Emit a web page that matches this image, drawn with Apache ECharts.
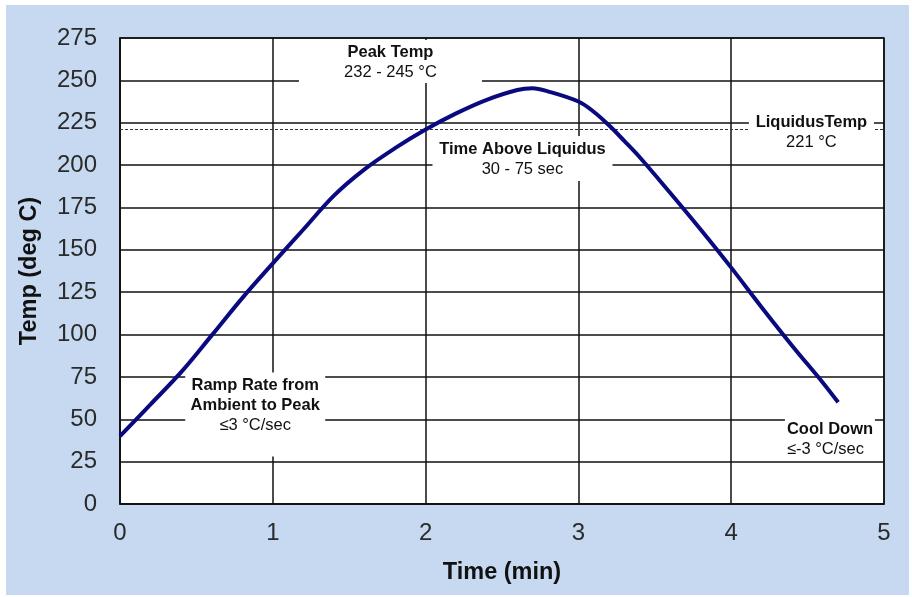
<!DOCTYPE html>
<html>
<head>
<meta charset="utf-8">
<script src="https://cdn.jsdelivr.net/npm/echarts@6/dist/echarts.min.js"></script>
<style>
  html, body { margin: 0; padding: 0; background: #ffffff; }
  #wrap { position: absolute; left: 6px; top: 5px; right: 3px; bottom: 2px; background: #c6d9f0; }
  #chart { position: absolute; left: -6px; top: -5px; width: 912px; height: 597px; }
</style>
</head>
<body>
<div id="wrap"><div id="chart"></div></div>
<script>
// ---- data ----
const timeMin = [0, 0.2, 0.4, 0.6, 0.8, 1.0, 1.2, 1.4, 1.6, 1.8, 2.0, 2.2, 2.4, 2.6, 2.7, 2.8, 3.0, 3.1, 3.2, 3.3, 3.4, 3.6, 3.8, 4.0, 4.2, 4.4, 4.6, 4.7];
const tempC   = [40, 58.8, 77.8, 99.5, 121.5, 142, 162, 182, 197.5, 210, 221, 230.5, 238.5, 244.3, 245.3, 243.5, 237.5, 231.5, 223.5, 214.3, 204.8, 183.7, 162, 139.5, 116, 93.3, 71.6, 60];
const liquidusTemp = 221;
const xTicks = [0, 1, 2, 3, 4, 5];
const yTicks = [0, 25, 50, 75, 100, 125, 150, 175, 200, 225, 250, 275];

// annotations (data coordinates of box centres)
const annoX = [1.77, 2.634, 4.525, 0.885, 4.646];
const annoY = [261.1, 203.9, 219.5, 52.8, 39.2];
const annoTitle = ['Peak Temp', 'Time Above Liquidus', 'LiquidusTemp', 'Ramp Rate from\nAmbient to Peak', 'Cool Down'];
const annoSub = ['232 - 245 °C', '30 - 75 sec', '221 °C', '≤3 °C/sec', '≤-3 °C/sec'];

const chart = echarts.init(document.getElementById('chart'), null, { renderer: 'canvas' });

const FONT = 'Arial, "Liberation Sans", Helvetica, sans-serif';
const annoBox = [
  { width: 163, padding: [2, 10, 1, 10], align: 'center' },
  { width: 170, padding: [3, 5, 2, 5], align: 'center' },
  { width: 115, padding: [2, 5, 2, 5], align: 'center' },
  { width: 134, padding: [3, 3, 21, 3], align: 'center' },
  { width: 86, padding: [4, 2, 0, 2], align: 'left' }
];

const annoData = annoX.map((x, i) => {
  const b = annoBox[i];
  const titleLines = annoTitle[i].split('\n').map(l => '{b|' + l + '}').join('\n');
  return {
    value: [x, annoY[i]],
    label: {
      show: true,
      position: 'inside',
      opacity: 1,
      formatter: titleLines + '\n{n|' + annoSub[i] + '}',
      backgroundColor: '#ffffff',
      width: b.width,
      padding: b.padding,
      textBorderWidth: 0,
      rich: {
        b: { fontFamily: FONT, fontSize: 16.5, fontWeight: 'bold', color: '#111111', lineHeight: 20, align: b.align, textBorderWidth: 0 },
        n: { fontFamily: FONT, fontSize: 16.5, color: '#111111', lineHeight: 20, align: b.align, textBorderWidth: 0 }
      }
    }
  };
});

const option = {
  backgroundColor: 'transparent',
  animation: false,
  grid: {
    left: 120, top: 38, right: 28, bottom: 93,
    show: true, backgroundColor: '#ffffff', borderColor: '#111', borderWidth: 1.5
  },
  xAxis: {
    type: 'value', min: 0, max: 5, interval: 1,
    name: 'Time (min)', nameLocation: 'middle', nameGap: 57,
    nameTextStyle: { fontFamily: FONT, fontSize: 23.5, fontWeight: 'bold', color: '#111' },
    axisLine: { show: true, lineStyle: { color: '#111', width: 1.5 } },
    axisTick: { show: false },
    axisLabel: { margin: 17, fontFamily: FONT, fontSize: 24, color: '#2a2a2a',
      formatter: v => xTicks.includes(v) ? String(v) : '' },
    splitLine: { show: true, lineStyle: { color: '#111', width: 1.5 } }
  },
  yAxis: {
    type: 'value', min: 0, max: 275, interval: 25,
    name: 'Temp (deg C)', nameLocation: 'middle', nameGap: 78,
    nameTextStyle: { fontFamily: FONT, fontSize: 23.5, fontWeight: 'bold', color: '#111' },
    axisLine: { show: true, lineStyle: { color: '#111', width: 1.5 } },
    axisTick: { show: false },
    axisLabel: { margin: 23, fontFamily: FONT, fontSize: 24, color: '#2a2a2a',
      formatter: v => yTicks.includes(v) ? String(v) : '' },
    splitLine: { show: true, lineStyle: { color: '#111', width: 1.5 } }
  },
  series: [
    {
      name: 'Liquidus',
      type: 'line',
      data: [[0, liquidusTemp], [5, liquidusTemp]],
      symbol: 'none',
      lineStyle: { color: '#333', width: 1, type: [3, 2] },
      z: 2
    },
    {
      name: 'Profile',
      type: 'line',
      data: timeMin.map((t, i) => [t, tempC[i]]),
      smooth: 0.35,
      symbol: 'none',
      lineStyle: { color: '#0a0a80', width: 4 },
      z: 3
    },
    {
      name: 'Annotations',
      type: 'scatter',
      symbolSize: 0,
      itemStyle: { color: '#ffffff', opacity: 1 },
      emphasis: { disabled: true },
      data: annoData,
      z: 4
    }
  ]
};
chart.setOption(option);
</script>
</body>
</html>
